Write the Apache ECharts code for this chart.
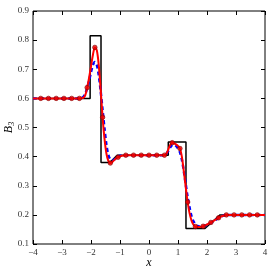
<!DOCTYPE html>
<html><head><meta charset="utf-8">
<script src="https://cdn.jsdelivr.net/npm/echarts@6/dist/echarts.min.js"></script>
<style>html,body{margin:0;padding:0;background:#fff}#c{width:275px;height:275px}</style>
</head><body><div id="c"></div>
<script>
var xTicks = [-4,-3,-2,-1,0,1,2,3,4];
var yTicks = [0.1,0.2,0.3,0.4,0.5,0.6,0.7,0.8,0.9];

var exactX = [-4,-2.03,-2.03,-1.655,-1.655,-1.35,-1.1,0.665,0.665,1.275,1.275,1.93,2.45,4];
var exactY = [0.6,0.6,0.815,0.815,0.38,0.38,0.405,0.405,0.45,0.45,0.153,0.153,0.2,0.2];

var redX = [-4,-2.4,-2.267,-2.2,-2.133,-2.067,-2.0,-1.933,-1.867,-1.8,-1.733,-1.667,-1.6,-1.533,-1.467,-1.4,-1.333,-1.267,-1.2,-1.133,-1.067,-1.0,-0.933,-0.8,0.5,0.533,0.6,0.667,0.733,0.8,0.867,0.933,1.0,1.067,1.133,1.2,1.267,1.333,1.4,1.467,1.533,1.6,1.667,1.733,1.8,1.867,1.933,2.0,2.133,2.267,2.4,2.533,2.667,4];
var redY = [0.6,0.6,0.602,0.61,0.637,0.67,0.71,0.75,0.775,0.765,0.715,0.63,0.535,0.46,0.41,0.385,0.378,0.381,0.388,0.394,0.398,0.401,0.403,0.405,0.405,0.405,0.41,0.425,0.441,0.448,0.446,0.442,0.437,0.428,0.40,0.35,0.295,0.244,0.205,0.18,0.166,0.16,0.158,0.158,0.159,0.161,0.164,0.167,0.174,0.182,0.19,0.196,0.2,0.2];

var blueX = [-4,-2.4,-2.267,-2.2,-2.133,-2.067,-2.0,-1.933,-1.867,-1.8,-1.733,-1.667,-1.6,-1.533,-1.467,-1.4,-1.333,-1.267,-1.2,-1.133,-1.067,-1.0,-0.867,0.5,0.6,0.667,0.733,0.8,0.867,0.933,1.0,1.067,1.133,1.2,1.267,1.333,1.4,1.467,1.533,1.6,1.667,1.733,1.8,1.867,2.0,2.133,2.267,2.4,2.533,2.667,4];
var blueY = [0.6,0.6,0.605,0.615,0.635,0.66,0.69,0.715,0.725,0.715,0.68,0.625,0.56,0.495,0.44,0.405,0.39,0.387,0.39,0.396,0.4,0.403,0.405,0.405,0.41,0.42,0.432,0.44,0.441,0.437,0.428,0.415,0.39,0.35,0.305,0.26,0.225,0.195,0.178,0.168,0.162,0.16,0.16,0.161,0.166,0.173,0.181,0.189,0.196,0.2,0.2];

var markX = [-3.733,-3.467,-3.2,-2.933,-2.667,-2.4,-2.133,-1.867,-1.6,-1.333,-1.067,-0.8,-0.533,-0.267,0,0.267,0.533,0.8,1.067,1.333,1.6,1.867,2.133,2.4,2.667,2.933,3.2,3.467,3.733];
var markY = [0.6,0.6,0.6,0.6,0.6,0.6,0.637,0.775,0.535,0.378,0.398,0.405,0.405,0.405,0.405,0.405,0.405,0.448,0.428,0.244,0.16,0.161,0.174,0.19,0.2,0.2,0.2,0.2,0.2];

function pairs(xs, ys){ return xs.map(function(x,i){ return [x, ys[i]]; }); }
var serif = 'Liberation Serif';
function fmtX(v){ return v < 0 ? '\u2212' + Math.abs(v) : String(v); }
function fmtY(v){ return v.toFixed(1); }

var common = {
  min: xTicks[0], max: xTicks[xTicks.length-1], interval: 1, type: 'value',
  axisLine: {show: false, onZero: false}, splitLine: {show: false},
  axisTick: {inside: true, length: 4, lineStyle: {color: '#000', width: 1}}
};
var commonY = {
  min: yTicks[0], max: yTicks[yTicks.length-1], interval: 0.1, type: 'value',
  axisLine: {show: false, onZero: false}, splitLine: {show: false},
  axisTick: {inside: true, length: 4, lineStyle: {color: '#000', width: 1}}
};

var chart = echarts.init(document.getElementById('c'), null, {renderer: 'canvas'});
chart.setOption({
  animation: false,
  grid: {left: 33, right: 10, top: 11, bottom: 31, containLabel: false, outerBoundsMode: 'none',
         show: true, borderColor: '#000', borderWidth: 1, backgroundColor: 'transparent'},
  xAxis: [
    Object.assign({}, common, {position: 'bottom',
      axisLabel: {formatter: fmtX, fontFamily: serif, fontSize: 9, color: '#333', margin: 4},
      name: 'x', nameLocation: 'middle', nameGap: 13, nameMoveOverlap: false,
      nameTextStyle: {fontFamily: serif, fontStyle: 'italic', fontSize: 12, color: '#000'}}),
    Object.assign({}, common, {position: 'top', axisLabel: {show: false}})
  ],
  yAxis: [
    Object.assign({}, commonY, {position: 'left',
      axisLabel: {formatter: fmtY, fontFamily: serif, fontSize: 9, color: '#333', margin: 4},
      name: '{b|B}{s|3}', nameLocation: 'middle', nameGap: 17, nameRotate: 90, nameMoveOverlap: false,
      nameTextStyle: {rich: {
        b: {fontFamily: serif, fontStyle: 'italic', fontSize: 12, color: '#000'},
        s: {fontFamily: serif, fontStyle: 'italic', fontSize: 8, color: '#000', verticalAlign: 'bottom', padding: [6,0,0,0]}
      }}}),
    Object.assign({}, commonY, {position: 'right', axisLabel: {show: false}})
  ],
  series: [
    {type: 'line', data: pairs(exactX, exactY), showSymbol: false, symbol: 'none',
     lineStyle: {color: '#000', width: 1.5}, z: 2},
    {type: 'line', data: pairs(blueX, blueY), showSymbol: false, symbol: 'none', smooth: 0.3,
     lineStyle: {color: '#0000ff', width: 2.5, type: [4, 3]}, z: 3},
    {type: 'line', data: pairs(redX, redY), showSymbol: false, symbol: 'none', smooth: 0.3,
     lineStyle: {color: '#ff0000', width: 2}, z: 4},
    {type: 'scatter', data: pairs(markX, markY), symbol: 'circle', symbolSize: 4.5,
     itemStyle: {color: '#ee0000', borderColor: '#880000', borderWidth: 0.8}, z: 5}
  ]
});
</script></body></html>
